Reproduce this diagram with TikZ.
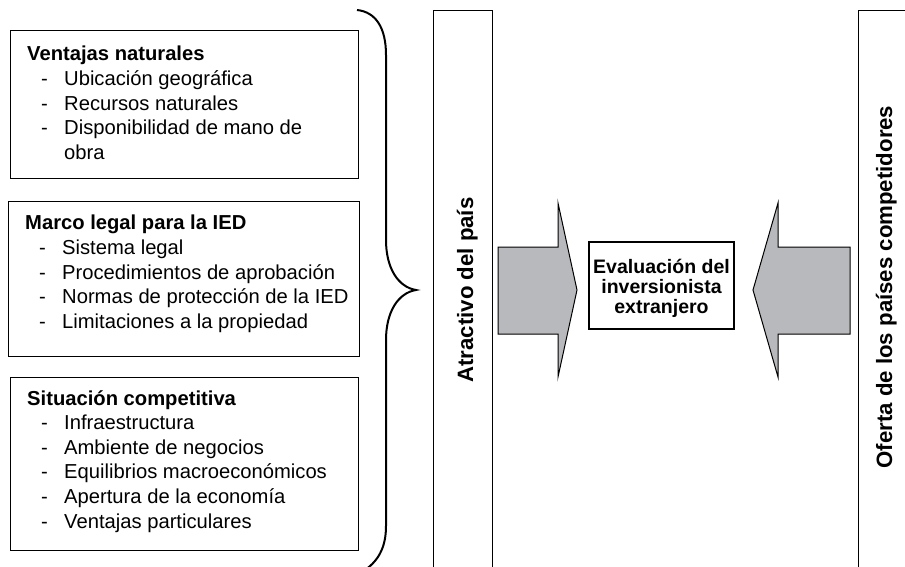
\documentclass[tikz,border=0pt]{standalone}
\usepackage{fontspec}
\setmainfont{Liberation Sans}
\usepackage{xcolor}
\usepackage{tikz}
\usetikzlibrary{positioning}

\definecolor{arrowgray}{RGB}{184,185,188}

\newcommand{\itm}[1]{\hspace*{14pt}\makebox[23pt][l]{-}#1}

\tikzset{
	catbox/.style = {draw, line width = 1.2pt, minimum width = 348pt, anchor = north west, inner sep = 0pt},
	listtext/.style = {align = left, inner sep = 0pt, anchor = north west, font = \fontsize{20.2}{24.6}\selectfont},
	tallbox/.style = {draw, line width = 1.2pt, minimum width = 59pt, minimum height = 590pt, anchor = north west, inner sep = 0pt},
	sidetext/.style = {rotate = 90, anchor = base, inner sep = 0pt, font = \fontsize{22.2}{24}\selectfont\bfseries},
	evalbox/.style = {draw, line width = 1.2pt, fill = white, minimum width = 145pt, minimum height = 87pt, inner sep = 0pt},
	evaltext/.style = {align = center, inner sep = 0pt, font = \fontsize{19.5}{20}\selectfont\bfseries},
	bigarrow/.style = {draw, line width = 1pt, fill = arrowgray, line join = miter}
}

\begin{document}
\begin{tikzpicture}[x = 1pt, y = 1pt]
		\useasboundingbox (0,0) rectangle (905,566);
		
		% left boxes
		\begin{scope}
			\node [catbox, minimum height = 148pt] (natbox) at (10,536) {};
			\node [listtext, below right = 16pt and 17pt of natbox.north west] (nattxt) {\textbf{Ventajas naturales}\\
				\itm{Ubicación geográfica}\\
				\itm{Recursos naturales}\\
				\itm{Disponibilidad de mano de}\\
				\hspace*{37pt}obra};
			
			\node [catbox, minimum width = 351pt, minimum height = 155pt] (legbox) at (8,365) {};
			\node [listtext, below right = 14pt and 17pt of legbox.north west] (legtxt) {\textbf{Marco legal para la IED}\\
				\itm{Sistema legal}\\
				\itm{Procedimientos de aprobación}\\
				\itm{Normas de protección de la IED}\\
				\itm{Limitaciones a la propiedad}};
			
			\node [catbox, minimum height = 173pt] (compbox) at (10,189) {};
			\node [listtext, below right = 13pt and 17pt of compbox.north west] (comptxt) {\textbf{Situación competitiva}\\
				\itm{Infraestructura}\\
				\itm{Ambiente de negocios}\\
				\itm{Equilibrios macroeconómicos}\\
				\itm{Apertura de la economía}\\
				\itm{Ventajas particulares}};
		\end{scope}
		
		% brace
		\draw [line width = 2pt] (357,556) .. controls (376,554) and (386,538) .. (386,511)
			-- (386,326) .. controls (386,298) and (398,279) .. (416,276)
			.. controls (398,273) and (386,254) .. (386,226)
			-- (386,40) .. controls (386,18) and (378,4) .. (362,-6);
		
		% tall boxes
		\begin{scope}
			\node [tallbox] (atrbox) at (433,556) {};
			\node [sidetext] (atrtxt) at (473,276) {Atractivo del país};
			
			\node [tallbox, minimum width = 80pt] (ofbox) at (858,556) {};
			\node [sidetext] (oftxt) at (892,279) {Oferta de los países competidores};
		\end{scope}
		
		% arrows and evaluation
		\begin{scope}
			\draw [bigarrow] (498,319) -- (558,319) -- (558,363) -- (577,276) -- (558,189) -- (558,232) -- (498,232) -- cycle;
			\draw [bigarrow] (850,319) -- (778,319) -- (778,363) -- (753,276) -- (778,189) -- (778,232) -- (850,232) -- cycle;
			\node [evalbox] (eval) at (661.5,280.5) {};
			\node [evaltext] (evaltxt) at ([yshift = -3pt]eval.center) {Evaluación del\\inversionista\\extranjero};
		\end{scope}
	\end{tikzpicture}
\end{document}
